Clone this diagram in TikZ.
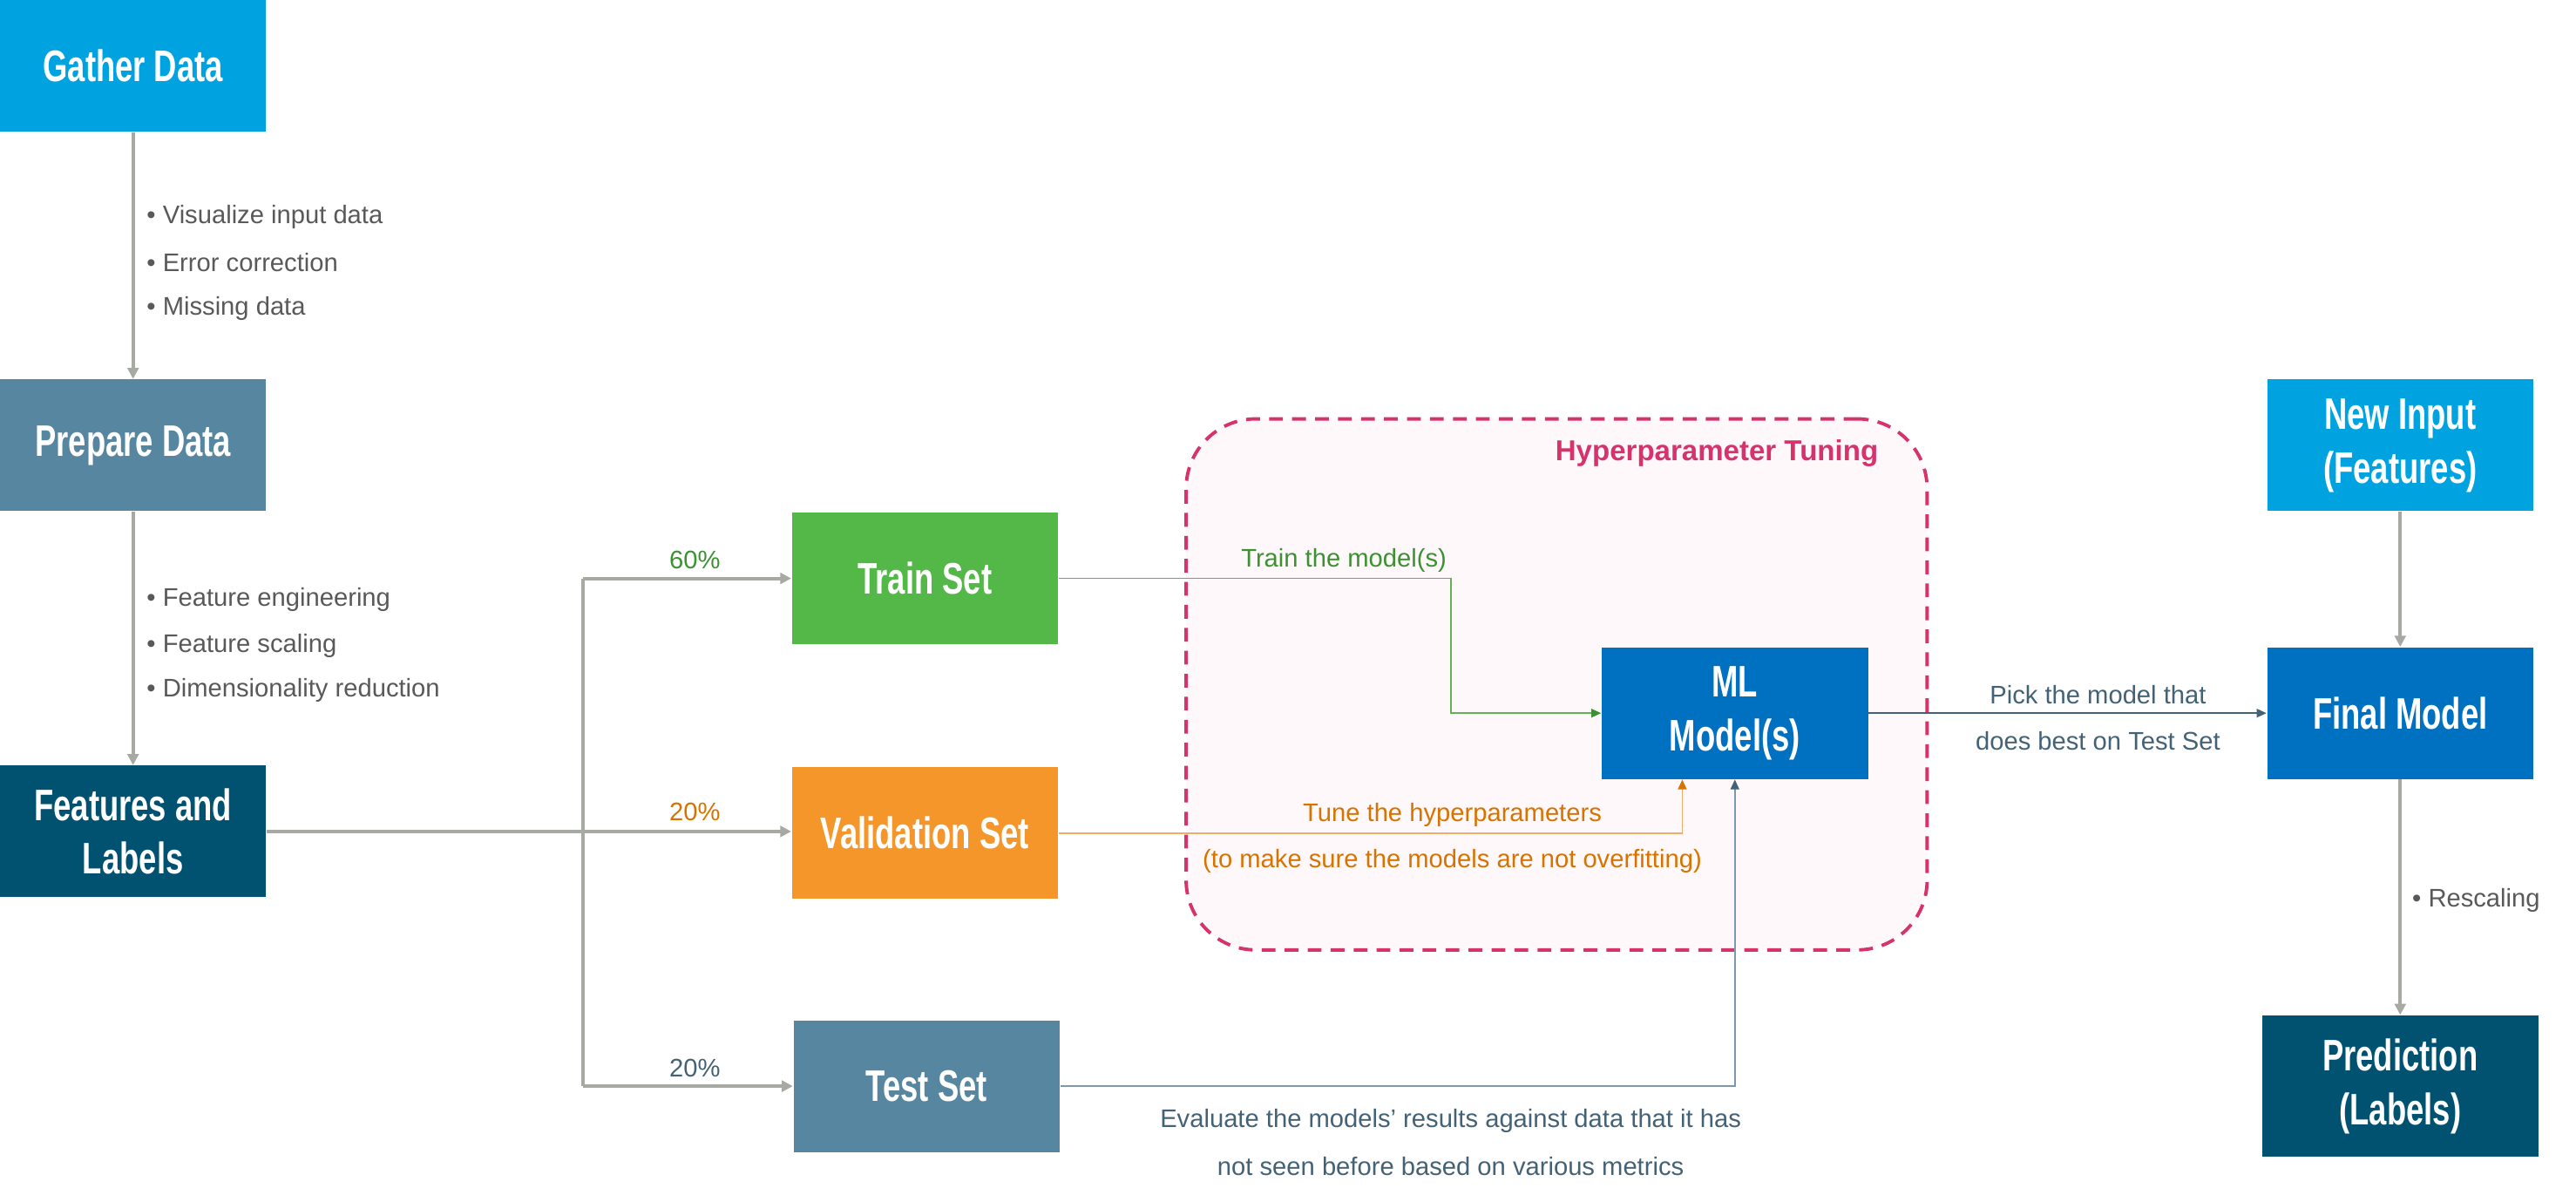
\documentclass[tikz,border=0pt]{standalone}
\usepackage{fontspec}
\setmainfont{Liberation Sans}
\newfontfamily\boxfont[FakeStretch=0.72]{Liberation Sans}
\usetikzlibrary{arrows.meta}
\definecolor{cyanbox}{RGB}{0,163,224}
\definecolor{steelbox}{RGB}{87,135,160}
\definecolor{tealbox}{RGB}{0,82,112}
\definecolor{greenbox}{RGB}{84,184,72}
\definecolor{orangebox}{RGB}{245,150,42}
\definecolor{bluebox}{RGB}{0,112,192}
\definecolor{flowgray}{RGB}{166,170,163}
\definecolor{notegray}{RGB}{89,89,89}
\definecolor{greentxt}{RGB}{60,145,50}
\definecolor{greenline}{RGB}{100,178,85}
\definecolor{orangetxt}{RGB}{215,115,0}
\definecolor{orangeline}{RGB}{240,172,105}
\definecolor{slate}{RGB}{68,98,118}
\definecolor{slateline}{RGB}{125,152,172}
\definecolor{tunepink}{RGB}{214,51,108}
\definecolor{tunefill}{RGB}{255,248,250}

\begin{document}
\begin{tikzpicture}[x=0.018852cm,y=-0.018852cm,
   stage/.style={minimum width=3.054cm,minimum height=1.508cm,inner sep=0pt,
      text=white,align=center,font=\boxfont\bfseries\fontsize{14.4}{17.6}\selectfont},
   flow/.style={draw=flowgray,line width=1.1pt,-{Triangle[length=3.6pt,width=3.6pt]}},
   link/.style={line width=0.5pt,-{Triangle[length=3.2pt,width=2.8pt]}},
   note/.style={font=\fontsize{8.3}{10}\selectfont,inner sep=0pt,yshift=-0.035cm}]
   \useasboundingbox (0,0) rectangle (1568,726.8);
   % tuning group
   \node (tuning) [draw=tunepink,fill=tunefill,line width=1.1pt,dash pattern=on 4.5pt off 3pt,
      rounded corners=0.8cm,minimum width=8.50cm,minimum height=6.09cm] at (947.5,416.5) {};
   \node (tuningtitle) [font=\bfseries\fontsize{9.4}{11}\selectfont,text=tunepink] at (1045,276) {Hyperparameter Tuning};
   % stages
   \node (gather)   [stage,fill=cyanbox]   at (81,40)    {Gather Data};
   \node (prepare)  [stage,fill=steelbox]  at (81,271)   {Prepare Data};
   \node (features) [stage,fill=tealbox]   at (81,506)   {Features and\\Labels};
   \node (train)    [stage,fill=greenbox]  at (563,352)  {Train Set};
   \node (valid)    [stage,fill=orangebox] at (563,507)  {Validation Set};
   \node (test)     [stage,fill=steelbox]  at (564,661)  {Test Set};
   \node (ml)       [stage,fill=bluebox]   at (1056,434) {ML\\Model(s)};
   \node (newin)    [stage,fill=cyanbox]   at (1461,271) {New Input\\(Features)};
   \node (final)    [stage,fill=bluebox]   at (1461,434) {Final Model};
   \node (pred)     [stage,fill=tealbox,minimum width=3.167cm,minimum height=1.621cm]
      at (1461,661) {Prediction\\(Labels)};
   % data flow
   \draw[flow] (gather) -- (prepare);
   \draw[flow] (prepare) -- (features);
   \coordinate (splittop) at (355,352);
   \coordinate (splitbot) at (355,661);
   \draw[flow] (features.east) -- (features.east -| valid.west);
   \draw[draw=flowgray,line width=1.1pt] (splittop) -- (splitbot);
   \draw[flow] (splittop) -- (train.west);
   \draw[flow] (splitbot) -- (test.west);
   \node (trainpct) [note,text=greentxt]  at (423,339) {60\%};
   \node (validpct) [note,text=orangetxt] at (423,492) {20\%};
   \node (testpct)  [note,text=slate]     at (423,648) {20\%};
   % notes
   \node (gathera)  [note,text=notegray,anchor=west] at (89,130) {• Visualize input data};
   \node (gatherb)  [note,text=notegray,anchor=west] at (89,158) {• Error correction};
   \node (gatherc)  [note,text=notegray,anchor=west] at (89,186) {• Missing data};
   \node (preparea) [note,text=notegray,anchor=west] at (89,363) {• Feature engineering};
   \node (prepareb) [note,text=notegray,anchor=west] at (89,391) {• Feature scaling};
   \node (preparec) [note,text=notegray,anchor=west] at (89,418) {• Dimensionality reduction};
   % model
   \coordinate (trainbend) at (883,352);
   \draw[link,greenline,-{Triangle[length=3.2pt,width=2.8pt,color=greentxt]}]
      (train.east) -- (trainbend) |- (ml.west);
   \node (trainnote) [note,text=greentxt] at (818,339) {Train the model(s)};
   \draw[link,orangeline,-{Triangle[length=3.2pt,width=2.8pt,color=orangetxt]}]
      (valid.east) -| ([xshift=-0.603cm]ml.south);
   \node (tunenotea) [note,text=orangetxt] at (884,494) {Tune the hyperparameters};
   \node (tunenoteb) [note,text=orangetxt] at (884,522) {(to make sure the models are not overfitting)};
   \draw[link,slateline,-{Triangle[length=3.2pt,width=2.8pt,color=slate]}]
      (test.east) -| (ml.south);
   \node (testnotea) [note,text=slate] at (883,680) {Evaluate the models’ results against data that it has};
   \node (testnoteb) [note,text=slate] at (883,708) {not seen before based on various metrics};
   \draw[link,slate] (ml) -- (final);
   \node (picknotea) [note,text=slate] at (1277,421) {Pick the model that};
   \node (picknoteb) [note,text=slate] at (1277,449) {does best on Test Set};
   % prediction
   \draw[flow] (newin) -- (final);
   \draw[flow] (final) -- (pred);
   \node (rescale) [note,text=notegray,anchor=west] at (1468,546) {• Rescaling};
\end{tikzpicture}
\end{document}
